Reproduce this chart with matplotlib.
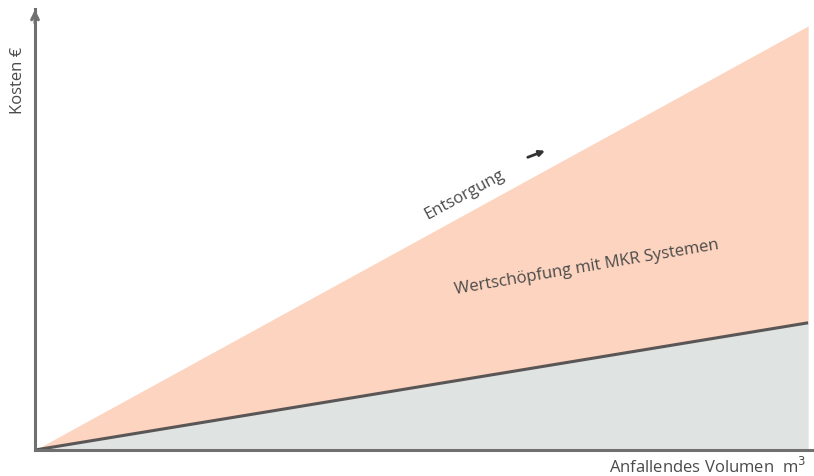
import matplotlib
matplotlib.use('Agg')
import matplotlib.pyplot as plt

plt.rcParams['font.family'] = ['Open Sans', 'DejaVu Sans']

volume = [0, 100]
entsorgung = [0, 100]
mkr_kosten = [0, 30]

W, H = 814, 477
fig = plt.figure(figsize=(W / 100, H / 100), dpi=100)
ax = fig.add_axes([35 / W, 26 / H, 777 / W, 441 / H])
ax.set_xlim(0, 100.5)
ax.set_ylim(0, 104)

ax.fill_between(volume, mkr_kosten, entsorgung, color='#fdd4bf', lw=0)
ax.fill_between(volume, 0, mkr_kosten, color='#dfe4e3', lw=0)
ax.plot(volume, mkr_kosten, color='#5b5656', lw=2.2, solid_capstyle='butt')

for s in ['top', 'right']:
    ax.spines[s].set_visible(False)
for s in ['left', 'bottom']:
    ax.spines[s].set_color('#707070')
    ax.spines[s].set_linewidth(2.2)
ax.set_xticks([])
ax.set_yticks([])

# arrow head on the y axis
ax.annotate('', xy=(0, 104.5), xytext=(0, 100), xycoords='data',
            arrowprops=dict(arrowstyle='->', color='#707070', lw=2.2,
                            mutation_scale=12), annotation_clip=False)

txt = '#4a4a4a'
ax.text(55.6, 60.4, 'Entsorgung', rotation=28.5, color=txt, fontsize=12,
        ha='center', va='center', rotation_mode='anchor')
ax.annotate('', xy=(66.3, 70.8), xytext=(63.4, 68.8),
            arrowprops=dict(arrowstyle='-|>', color='#333333', lw=2,
                            mutation_scale=8))
ax.text(71.4, 43.2, 'Wertschöpfung mit MKR Systemen', rotation=9.7, color=txt,
        fontsize=12, ha='center', va='center', rotation_mode='anchor')

fig.text(18 / W, 1 - 80 / H, 'Kosten €', rotation=90, color=txt, fontsize=12,
         ha='center', va='center')
fig.text(806 / W, 1 - 467 / H, 'Anfallendes Volumen  m$^3$', color=txt,
         fontsize=12, ha='right', va='center')

fig.savefig('out.png', dpi=100)
